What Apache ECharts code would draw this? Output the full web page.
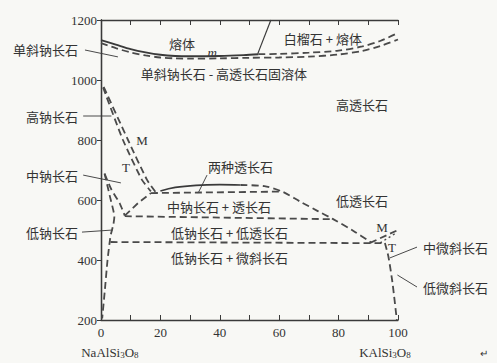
<!DOCTYPE html>
<html>
<head>
<meta charset="utf-8">
<script src="https://cdn.jsdelivr.net/npm/echarts@6/dist/echarts.min.js"></script>
<style>
html,body{margin:0;padding:0;background:#f8f8f5;}
#c{width:497px;height:363px;}
</style>
</head>
<body>
<div id="c"></div>
<script>
// ---- axis ----
const xTickLabels = [0, 20, 40, 60, 80, 100];
const yTickLabels = [200, 400, 600, 800, 1000, 1200];

// ---- phase boundaries [mol% KAlSi3O8, °C] ----
const liquidusSolid = [[0,1133],[5,1118],[10,1103],[15,1092],[20,1084],[25,1080],[30,1079],[40,1080],[48,1083],[53,1086]];
const liquidusDashed = [[53,1086],[60,1087],[70,1091],[80,1098],[88,1112],[94,1130],[100,1157]];
const solidus = [[0,1123],[5,1106],[10,1092],[15,1082],[20,1075],[25,1072],[30,1071],[40,1072],[50,1074],[60,1075],[70,1078],[80,1085],[88,1097],[94,1113],[100,1135]];
const leucite = [[52.8,1088],[57.2,1200]];
const albiteM = [[0.9,977],[9.1,800],[15.5,667],[18.5,625]];
const albiteT = [[0.7,975],[7.4,800],[13.8,667],[16.8,629]];
const intermediateA = [[1.2,688],[3.5,635],[6.3,589],[8,548]];
const lowAlbiteB = [[1.2,688],[3,612],[4.5,545],[4.2,520],[3.2,480],[2.2,400],[1.3,300],[0.4,205]];
const riseLine = [[8,548],[12.5,590],[16.8,623]];
const upperLine = [[16.8,623],[60,628]];
const midLine = [[8,546],[78,536]];
const lowLine = [[3.2,460],[95.5,456]];
const domeSolid = [[20,630],[25,642],[32,649],[40,651],[47,650]];
const domeDashed = [[47,650],[55,646],[61,628],[67,595],[73,563],[78,537],[85,497],[91,458]];
const microM = [[90.6,457],[100,500]];
const microDot = [[94,457],[99.7,492]];
const microT = [[95.6,457],[96.8,410],[98.2,320],[99.6,200]];

// ---- leader lines ----
const leaders = [
  [[-5.4,1100],[5.7,1077]],
  [[-6,880],[3.5,880]],
  [[-6,683],[6.7,657]],
  [[-6.4,493],[4,500]],
  [[106.4,443],[97.3,407]],
  [[106.4,310],[99.8,350]],
  [[35.7,683],[32.7,623]]
];

// ---- labels ----
const centerLabels = [
  ['熔体',27.3,1123],
  ['白榴石 + 熔体',74.7,1140],
  ['单斜钠长石 - 高透长石固溶体',41.4,1023],
  ['高透长石',87.9,917],
  ['中钠长石 + 透长石',39.7,577],
  ['低透长石',87.9,600],
  ['低钠长石 + 低透长石',43.3,493],
  ['低钠长石 + 微斜长石',43.3,410]
];
const leftLabels = [
  ['单斜钠长石',-7.7,1103],
  ['高钠长石',-7.7,880],
  ['中钠长石',-7.7,683],
  ['低钠长石',-7.7,493]
];
const rightLabels = [
  ['两种透长石',36,713],
  ['中微斜长石',108.4,443],
  ['低微斜长石',108.4,310]
];
const letterLabels = [
  ['M',13.8,800],['T',8.4,707],['M',94.6,507],['T',98,443]
];
const endMembers = [
  ['NaAlSi{s|3}O{s|8}',3,93],
  ['KAlSi{s|3}O{s|8}',95.6,93]
];

const INK = '#3a3a3a';
const DASH = [7,4];
const chart = echarts.init(document.getElementById('c'), null, {renderer:'svg'});

function ln(data, dashed, w, smooth, dash) {
  return {
    type:'line', data:data, symbol:'none', silent:true, animation:false,
    clip:false, smooth: smooth || false,
    lineStyle:{color: dashed ? '#4a4a4a' : INK, width: w || 1.8,
      type: dashed ? (dash || DASH) : 'solid', cap:'butt'}
  };
}

const series = [
  ln(liquidusSolid,false,1.9,0.3),
  ln(liquidusDashed,true,1.8,0.3),
  ln(solidus,true,1.8,0.3),
  ln(leucite,false,1.2),
  ln(albiteM,true,1.8,0.2),
  ln(albiteT,true,1.8,0.2),
  ln(intermediateA,true,1.8,0.2),
  ln(lowAlbiteB,true,1.8,0.15),
  ln(riseLine,true,1.8),
  ln(upperLine,true,1.8),
  ln(midLine,true,1.8),
  ln(lowLine,true,1.8),
  ln(domeSolid,false,1.7,0.4),
  ln(domeDashed,true,1.8,0.3),
  ln(microM,true,1.8),
  ln(microDot,true,1.4,false,[2,3]),
  ln(microT,true,1.8,0.2)
];

const serif = '"Liberation Serif","Noto Sans CJK SC",serif';
const cjk = '"Noto Sans CJK SC","Liberation Serif",sans-serif';

chart.setOption({
  backgroundColor:'#f8f8f5',
  animation:false,
  grid:{left:101,right:99,top:20,bottom:43,containLabel:false},
  xAxis:[{
    type:'value', min:0, max:100, interval:10, position:'bottom',
    axisLine:{show:true,lineStyle:{color:INK,width:1.3}},
    axisTick:{show:true,inside:true,length:5,lineStyle:{color:INK,width:1},
      interval:function(i,v){ return i % 2 === 1; }},
    axisLabel:{color:'#333',fontFamily:serif,fontSize:13,margin:6,
      formatter:function(v){return xTickLabels.indexOf(v)>=0 ? String(v) : '';}},
    splitLine:{show:false}
  },{
    type:'value', min:0, max:100, interval:10, position:'top',
    axisLine:{show:true,lineStyle:{color:INK,width:1.3}},
    axisTick:{show:true,inside:true,length:5,lineStyle:{color:INK,width:1}},
    axisLabel:{show:false}, splitLine:{show:false}
  }],
  yAxis:[{
    type:'value', min:200, max:1200, interval:200, position:'left',
    axisLine:{show:true,lineStyle:{color:INK,width:1.3}},
    axisTick:{show:true,inside:false,length:4,lineStyle:{color:INK,width:1}},
    axisLabel:{color:'#333',fontFamily:serif,fontSize:13,margin:4,
      formatter:function(v){return yTickLabels.indexOf(v)>=0 ? String(v) : '';}},
    splitLine:{show:false}
  },{
    type:'value', min:200, max:1200, interval:200, position:'right',
    axisLine:{show:true,lineStyle:{color:INK,width:1.3}},
    axisTick:{show:true,inside:true,length:4,lineStyle:{color:INK,width:1}},
    axisLabel:{show:false}, splitLine:{show:false}
  }],
  series: series
});

function px(x,y){ return chart.convertToPixel({gridIndex:0},[x,y]); }
const graphics = [];
leaders.forEach(function(d){
  graphics.push({type:'polyline', silent:true,
    shape:{points:d.map(function(p){return px(p[0],p[1]);})},
    style:{stroke:'#4a4a4a', lineWidth:1, fill:null}});
});
function addText(t, x, y, align, font, size, style) {
  const p = px(x,y);
  graphics.push({type:'text', silent:true, x:p[0], y:p[1],
    style:{text:t, fill:'#333', font:(style||'normal')+' '+size+'px '+font,
      align:align, verticalAlign:'middle'}});
}
centerLabels.forEach(function(l){ addText(l[0],l[1],l[2],'center',cjk,13); });
leftLabels.forEach(function(l){ addText(l[0],l[1],l[2],'right',cjk,13); });
rightLabels.forEach(function(l){ addText(l[0],l[1],l[2],'left',cjk,13); });
letterLabels.forEach(function(l){ addText(l[0],l[1],l[2],'center',serif,13); });
addText('m',37.4,1093,'center',serif,13,'italic');
endMembers.forEach(function(l){
  const p = px(l[1],l[2]);
  graphics.push({type:'text', silent:true, x:p[0], y:p[1],
    style:{text:l[0], fill:'#333', fontFamily:serif, fontSize:13,
      align:'center', verticalAlign:'middle',
      rich:{s:{fontFamily:serif,fontSize:9,fill:'#333',verticalAlign:'bottom',padding:[6,0,0,0]}}}});
});
addText('↵',128.8,87,'center',serif,10);
chart.setOption({graphic:graphics});
</script>
</body>
</html>
